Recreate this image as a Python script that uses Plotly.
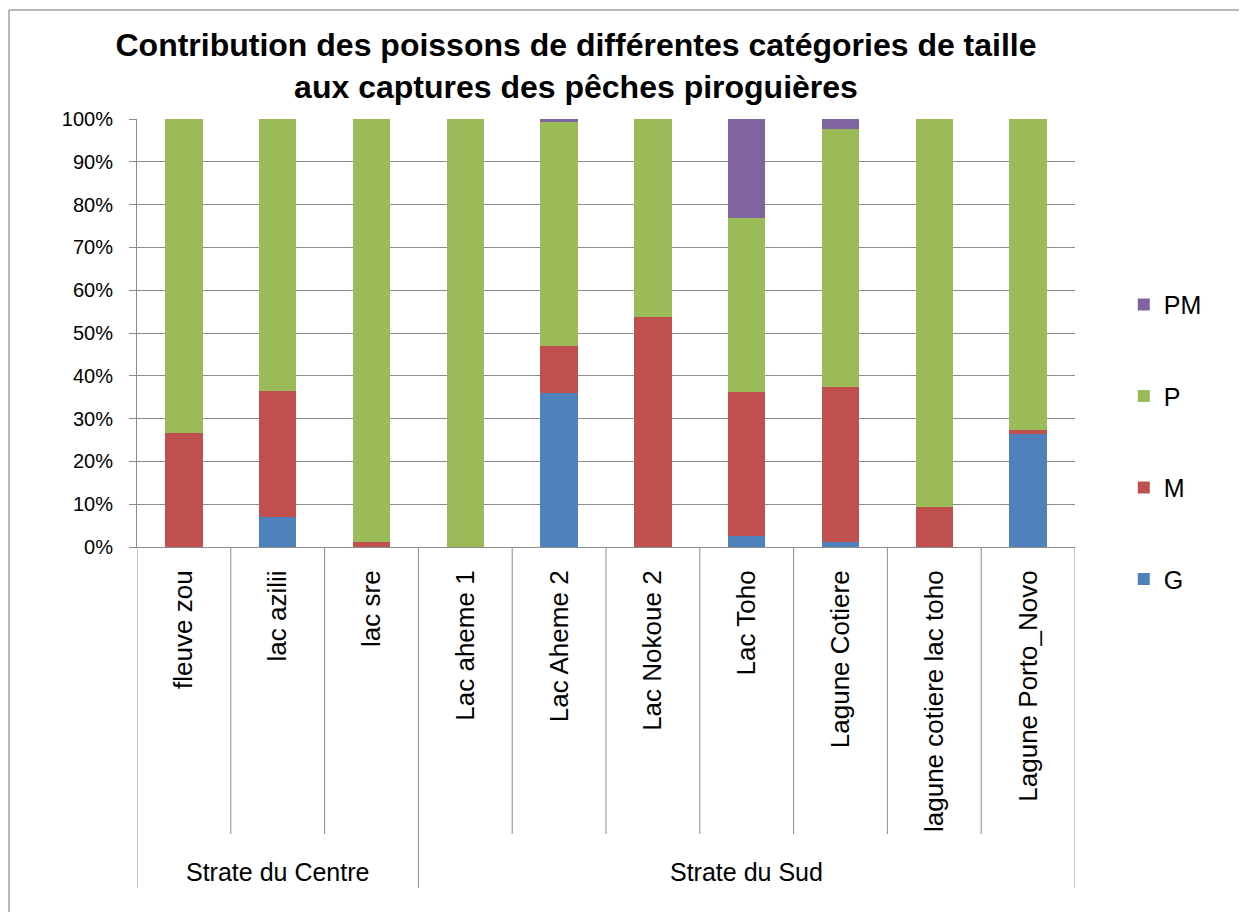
import plotly.graph_objects as go

# ---- data ----
groups = ["Strate du Centre", "Strate du Centre", "Strate du Centre",
          "Strate du Sud", "Strate du Sud", "Strate du Sud", "Strate du Sud",
          "Strate du Sud", "Strate du Sud", "Strate du Sud"]
sites = ["fleuve zou", "lac azilii", "lac sre", "Lac aheme 1", "Lac Aheme 2",
         "Lac Nokoue 2", "Lac Toho", "Lagune Cotiere", "lagune cotiere lac toho",
         "Lagune Porto_Novo"]
G = [0.0, 7.1, 0.0, 0.0, 35.9, 0.0, 2.6, 1.2, 0.0, 26.4]
M = [26.6, 29.3, 1.1, 0.0, 11.1, 53.8, 33.5, 36.1, 9.4, 0.9]
P = [73.4, 63.6, 98.9, 100.0, 52.3, 46.2, 40.8, 60.3, 90.6, 72.7]
PM = [0.0, 0.0, 0.0, 0.0, 0.7, 0.0, 23.1, 2.4, 0.0, 0.0]
series = [("G", G, "#4F81BD"), ("M", M, "#C0504D"), ("P", P, "#9BBB59"), ("PM", PM, "#8064A2")]
y_ticks = [0, 10, 20, 30, 40, 50, 60, 70, 80, 90, 100]

title_text = ("Contribution des poissons de différentes catégories de taille<br>"
              "aux captures des pêches piroguières")

W, H = 1239, 904
L, R, T, B = 129, 172, 111, 365
plot_w = W - L - R
plot_h = H - T - B

FONT = "Liberation Sans, Arial, sans-serif"
GRID = "#8c8c8c"

fig = go.Figure()
for k, (name, vals, color) in enumerate(series):
    fig.add_trace(go.Bar(
        x=sites, y=vals, name=name, legendgroup=name,
        legendrank=len(series) - k,
        marker=dict(color=color, line=dict(width=0)),
    ))

def py(px_below):
    # pixel distance below the x axis -> paper coordinate
    return -px_below / plot_h

shapes = []
n = len(sites)
for i in range(n + 1):
    xb = i - 0.5
    is_group_edge = (i == 0 or i == n or groups[i] != groups[i - 1])
    y1 = py(341) if is_group_edge else py(287)
    shapes.append(dict(type="line", xref="x", yref="paper", x0=xb, x1=xb,
                       y0=0, y1=y1, line=dict(color=GRID, width=1)))
# chart area border (left and top)
bx = (1 - L) / plot_w
by = 1 + (T - 2) / plot_h
shapes.append(dict(type="line", xref="paper", yref="paper",
                   x0=bx, x1=bx, y0=by, y1=-B / plot_h,
                   line=dict(color="#a0a0a0", width=1.5)))
shapes.append(dict(type="line", xref="paper", yref="paper",
                   x0=bx, x1=1 + R / plot_w, y0=by, y1=by,
                   line=dict(color="#a0a0a0", width=1.5)))

annotations = []
seen = []
for g in groups:
    if g not in seen:
        seen.append(g)
for g in seen:
    idx = [i for i, gg in enumerate(groups) if gg == g]
    cx = (idx[0] + idx[-1]) / 2
    annotations.append(dict(text=g, x=cx, xref="x", y=py(325), yref="paper",
                            showarrow=False, yanchor="middle",
                            font=dict(family=FONT, size=25, color="black")))

fig.update_layout(
    width=W, height=H,
    margin=dict(l=L, r=R, t=T, b=B, autoexpand=False),
    paper_bgcolor="white", plot_bgcolor="white",
    barmode="stack", bargap=0.6,
    title=dict(text=title_text, x=(576 - 8) / W, xanchor="center",
               y=1 - 48 / H, yanchor="top",
               font=dict(family=FONT, size=32, color="black", weight="bold")),
    font=dict(family=FONT, color="black"),
    showlegend=True,
    legend=dict(x=1.052, xanchor="left", y=0.62, yanchor="top",
                traceorder="grouped", tracegroupgap=56,
                font=dict(family=FONT, size=25, color="black"),
                itemwidth=30, bgcolor="rgba(0,0,0,0)"),
    shapes=shapes, annotations=annotations,
)
fig.update_xaxes(type="category", range=[-0.5, n - 0.5], tickangle=-90,
                 tickfont=dict(family=FONT, size=26, color="black"),
                 showgrid=False, showline=True, linecolor=GRID, linewidth=1,
                 ticks="", ticklabelstandoff=12, zeroline=False)
fig.update_yaxes(range=[0, 100], tickvals=y_ticks,
                 ticktext=[f"{v}%" for v in y_ticks],
                 tickfont=dict(family=FONT, size=20, color="black"),
                 showgrid=True, gridcolor=GRID, gridwidth=1,
                 showline=True, linecolor=GRID, linewidth=1,
                 ticks="outside", ticklen=7, tickcolor=GRID, zeroline=False,
                 ticklabelstandoff=12)

fig.write_html("out.html")
